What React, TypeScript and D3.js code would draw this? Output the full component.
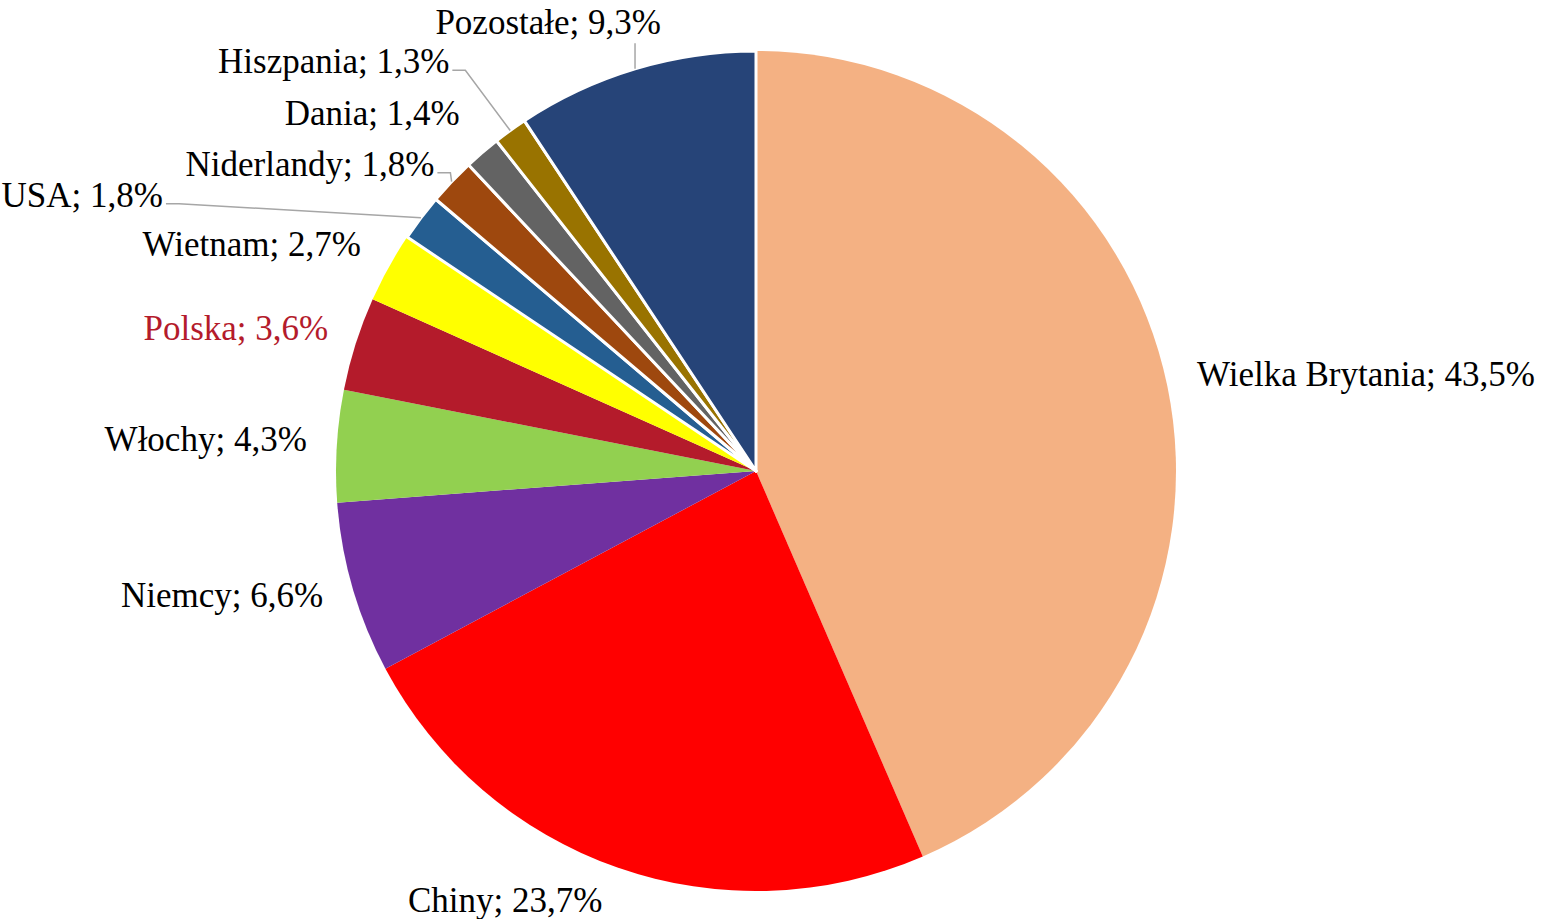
import React from "react";
import * as d3 from "d3";

const countries = ["Wielka Brytania", "Chiny", "Niemcy", "Włochy", "Polska", "Wietnam", "USA", "Niderlandy", "Dania", "Hiszpania", "Pozostałe"];
const shares = [43.5, 23.7, 6.6, 4.3, 3.6, 2.7, 1.8, 1.8, 1.4, 1.3, 9.3];
const colors = ["#F4B183", "#FF0000", "#7030A0", "#92D050", "#B41B2B", "#FFFF00", "#255E91", "#9E480E", "#636363", "#997300", "#264478"];
const labelColors = ["#000", "#000", "#000", "#000", "#B41B2B", "#000", "#000", "#000", "#000", "#000", "#000"];
const outlined = [false, false, false, false, false, false, true, true, true, true, true];
// label placement relative to point just outside slice (dx, dy, anchor, leader)
const labelOffsets: [number, number, string, string][] = [
  [20, 2, "start", "none"],
  [-109, 35, "middle", "none"],
  [-20, 16, "end", "none"],
  [-20, 6, "end", "none"],
  [-18, -1, "end", "none"],
  [-19, -7, "end", "none"],
  [-250, -5, "end", "elbow"],
  [-10, 1, "end", "elbow"],
  [-16, -20, "end", "none"],
  [-55, -49, "end", "elbow"],
  [-84, -25, "middle", "vertical"],
];

const W = 1544, H = 919;
const cx = 756, cy = 471, R = 420;

export default function App() {
  const pie = d3.pie<number>().sort(null).value((d) => d);
  const arcs = pie(shares);
  const arcGen = d3.arc<d3.PieArcDatum<number>>().innerRadius(0).outerRadius(R);
  const fmt = (v: number) => v.toFixed(1).replace(".", ",") + "%";

  return (
    <svg width={W} height={H} style={{ position: "absolute", left: 0, top: 0 }} fontFamily="'Liberation Serif', 'Times New Roman', serif">
      <rect width={W} height={H} fill="#fff" />
      <g transform={`translate(${cx},${cy})`}>
        {arcs.map((a, i) => (
          <path key={i} d={arcGen(a) || ""} fill={colors[i]} stroke={outlined[i] ? "#fff" : "none"} strokeWidth={outlined[i] ? 3 : 0} strokeLinejoin="round" />
        ))}
        {arcs.map((a, i) => {
          const mid = (a.startAngle + a.endAngle) / 2;
          const sx = Math.sin(mid), sy = -Math.cos(mid);
          const px = (R + 10) * sx, py = (R + 10) * sy;
          const [dx, dy, anchor, leader] = labelOffsets[i];
          const tx = px + dx, ty = py + dy;
          const ex = R * sx, ey = R * sy;
          let line: string | null = null;
          if (leader === "elbow") {
            line = `M${ex},${ey} L${tx + 16},${ty - 3} L${tx + 3},${ty - 3}`;
          } else if (leader === "vertical") {
            line = `M${ex},${ey} L${ex},${ty + 9}`;
          }
          return (
            <g key={"l" + i}>
              {line && <path d={line} fill="none" stroke="#A6A6A6" strokeWidth={1.5} />}
              <text x={tx} y={ty} textAnchor={anchor as any} fontSize={35} fill={labelColors[i]}>
                {countries[i]}; {fmt(shares[i])}
              </text>
            </g>
          );
        })}
      </g>
    </svg>
  );
}
